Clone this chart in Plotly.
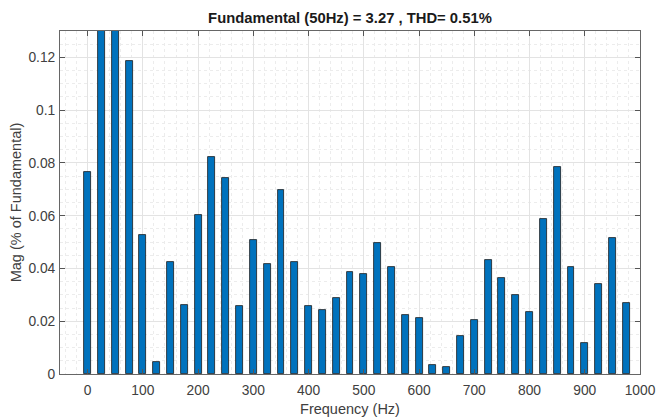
import plotly.graph_objects as go

freqs = [0, 25, 50, 75, 100, 125, 150, 175, 200, 225, 250, 275, 300, 325, 350, 375,
         400, 425, 450, 475, 500, 525, 550, 575, 600, 625, 650, 675, 700, 725, 750,
         775, 800, 825, 850, 875, 900, 925, 950, 975]
mags = [0.0766, 0.15, 100.0, 0.1187, 0.0527, 0.0046, 0.0424, 0.0260, 0.0602, 0.0821,
        0.0742, 0.0257, 0.0508, 0.0418, 0.0697, 0.0424, 0.0257, 0.0242, 0.0289, 0.0386,
        0.0379, 0.0495, 0.0404, 0.0224, 0.0213, 0.0035, 0.0025, 0.0143, 0.0205, 0.0433,
        0.0365, 0.0300, 0.0234, 0.0586, 0.0783, 0.0405, 0.0119, 0.0341, 0.0515, 0.0271]
x_ticks = [0, 100, 200, 300, 400, 500, 600, 700, 800, 900, 1000]
y_ticks = [0, 0.02, 0.04, 0.06, 0.08, 0.1, 0.12]
y_tick_labels = ["0", "0.02", "0.04", "0.06", "0.08", "0.1", "0.12"]
title = "Fundamental (50Hz) = 3.27 , THD= 0.51%"

fig = go.Figure(go.Bar(
    x=freqs, y=mags, width=12.5,
    marker=dict(color="#0072BD", line=dict(color="#1a1a1a", width=0.8)),
))

font = "Liberation Sans, Arial, Helvetica, sans-serif"
axis_common = dict(
    showline=True, linecolor="#666666", linewidth=1, mirror="ticks",
    ticks="inside", ticklen=5, tickcolor="#555555",
    showgrid=True, gridcolor="#e3e3e3", gridwidth=1,
    zeroline=False, automargin=False,
    tickfont=dict(family=font, size=13.8, color="#404040"),
)

fig.update_layout(
    width=656, height=419,
    margin=dict(l=60, r=16, t=31, b=45),
    paper_bgcolor="white", plot_bgcolor="white",
    showlegend=False,
    title=dict(text="<b>" + title + "</b>", x=0.5335, xanchor="center", y=0.957, yanchor="middle",
               font=dict(family=font, size=14.8, color="#1a1a1a")),
    xaxis=dict(range=[-50, 1000], tickvals=x_ticks, ticklabelstandoff=3,
               minor=dict(dtick=20, showgrid=True, gridcolor="#ececec", griddash="dot", ticks=""),
               title=dict(text="Frequency (Hz)", standoff=7, font=dict(family=font, size=14.5, color="#404040")),
               **axis_common),
    yaxis=dict(range=[0, 0.13], tickvals=y_ticks, ticktext=y_tick_labels, ticklabelstandoff=1,
               minor=dict(dtick=0.005, showgrid=True, gridcolor="#ececec", griddash="dot", ticks=""),
               title=dict(text="Mag (% of Fundamental)", standoff=3, font=dict(family=font, size=14.5, color="#404040")),
               **axis_common),
    bargap=0,
)

fig.write_html("out.html", config={"displayModeBar": False},
               post_script="document.body.style.margin='0';")
